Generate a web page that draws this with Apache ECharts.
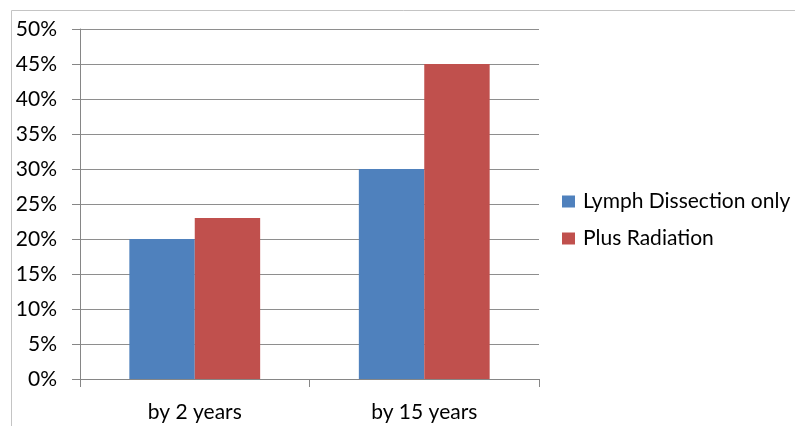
<!DOCTYPE html>
<html>
<head>
<meta charset="utf-8">
<script src="https://cdn.jsdelivr.net/npm/echarts@6/dist/echarts.min.js"></script>
<style>
html,body{margin:0;padding:0;background:#fff;}
#c{width:795px;height:426px;}
</style>
</head>
<body>
<div id="c"></div>
<script>
const categories = ['by 2 years', 'by 15 years'];
const lymphOnly = [20, 30];
const plusRadiation = [23, 45];
const seriesNames = ['Lymph Dissection only', 'Plus Radiation'];

const FONT = 'Lato';
const chart = echarts.init(document.getElementById('c'), null, {renderer: 'canvas'});
chart.setOption({
  animation: false,
  backgroundColor: '#fff',
  graphic: [{
    type: 'rect', left: 9, top: 8, silent: true,
    shape: {width: 820, height: 440},
    style: {fill: 'none', stroke: '#c4c4c4', lineWidth: 1}
  }],
  grid: {left: 80, right: 256, top: 29, bottom: 47, containLabel: false},
  legend: {
    orient: 'vertical',
    left: 557, top: 186,
    itemWidth: 13, itemHeight: 12,
    itemGap: 16,
    icon: 'rect',
    textStyle: {fontFamily: FONT, fontSize: 21, color: '#000', padding: [0, 0, 0, 3]},
    data: seriesNames
  },
  xAxis: {
    type: 'category',
    data: categories,
    axisLine: {lineStyle: {color: '#868686'}},
    axisTick: {show: true, length: 8, lineStyle: {color: '#868686'}},
    axisLabel: {fontFamily: FONT, fontSize: 21, color: '#000', margin: 23}
  },
  yAxis: {
    type: 'value',
    min: 0, max: 50, interval: 5,
    axisLine: {show: true, lineStyle: {color: '#868686'}},
    axisTick: {show: true, length: 8, lineStyle: {color: '#868686'}},
    splitLine: {lineStyle: {color: '#8e8e8e'}},
    axisLabel: {fontFamily: FONT, fontSize: 21, color: '#000', margin: 23, formatter: '{value}%'}
  },
  series: [
    {name: seriesNames[0], type: 'bar', data: lymphOnly, barGap: '0%', barCategoryGap: '43%',
     itemStyle: {color: '#4F81BD'}},
    {name: seriesNames[1], type: 'bar', data: plusRadiation, barGap: '0%', barCategoryGap: '43%',
     itemStyle: {color: '#C0504D'}}
  ]
});
</script>
</body>
</html>
